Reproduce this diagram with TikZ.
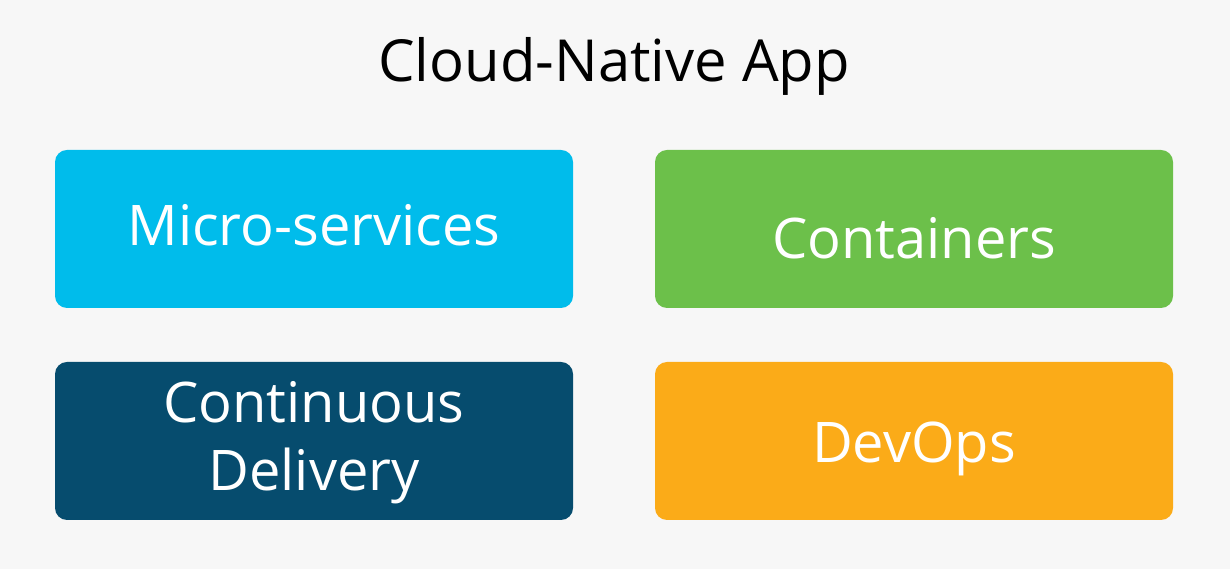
\documentclass[tikz,border=0pt]{standalone}
\usepackage{fontspec}
\setmainfont{Open Sans}
\definecolor{bggray}{HTML}{F7F7F7}
\definecolor{cyanbox}{HTML}{00BCEB}
\definecolor{greenbox}{HTML}{6CC04A}
\definecolor{navybox}{HTML}{064C6E}
\definecolor{orangebox}{HTML}{FBAB18}
\begin{document}
\begin{tikzpicture}[x=1pt, y=1pt,
  box/.style={rectangle, rounded corners=12pt, minimum width=518pt, minimum height=158pt, inner sep=0pt},
  boxtext/.style={text=white, align=center, inner sep=0pt, font=\fontsize{56}{68}\selectfont}]

  % background
  \fill[bggray] (0,0) rectangle (1230,569);
  \useasboundingbox (0,0) rectangle (1230,569);

  % title
  \node[font=\fontsize{58}{68}\selectfont] (title) at (614, 503) {Cloud-Native App};

  % boxes
  \node[box, fill=cyanbox] (micro) at (314, 340) {};
  \node[box, fill=greenbox] (cont) at (914, 340) {};
  \node[box, fill=navybox] (cd) at (314, 128) {};
  \node[box, fill=orangebox] (devops) at (914, 128) {};

  % names of boxes
  \node[boxtext] (microtext) at (314, 344) {Micro-services};
  \node[boxtext] (conttext) at (914, 331) {Containers};
  \node[boxtext] (cdtext) at (314, 126) {Continuous\\Delivery};
  \node[boxtext] (devopstext) at (914, 120) {DevOps};

\end{tikzpicture}
\end{document}
